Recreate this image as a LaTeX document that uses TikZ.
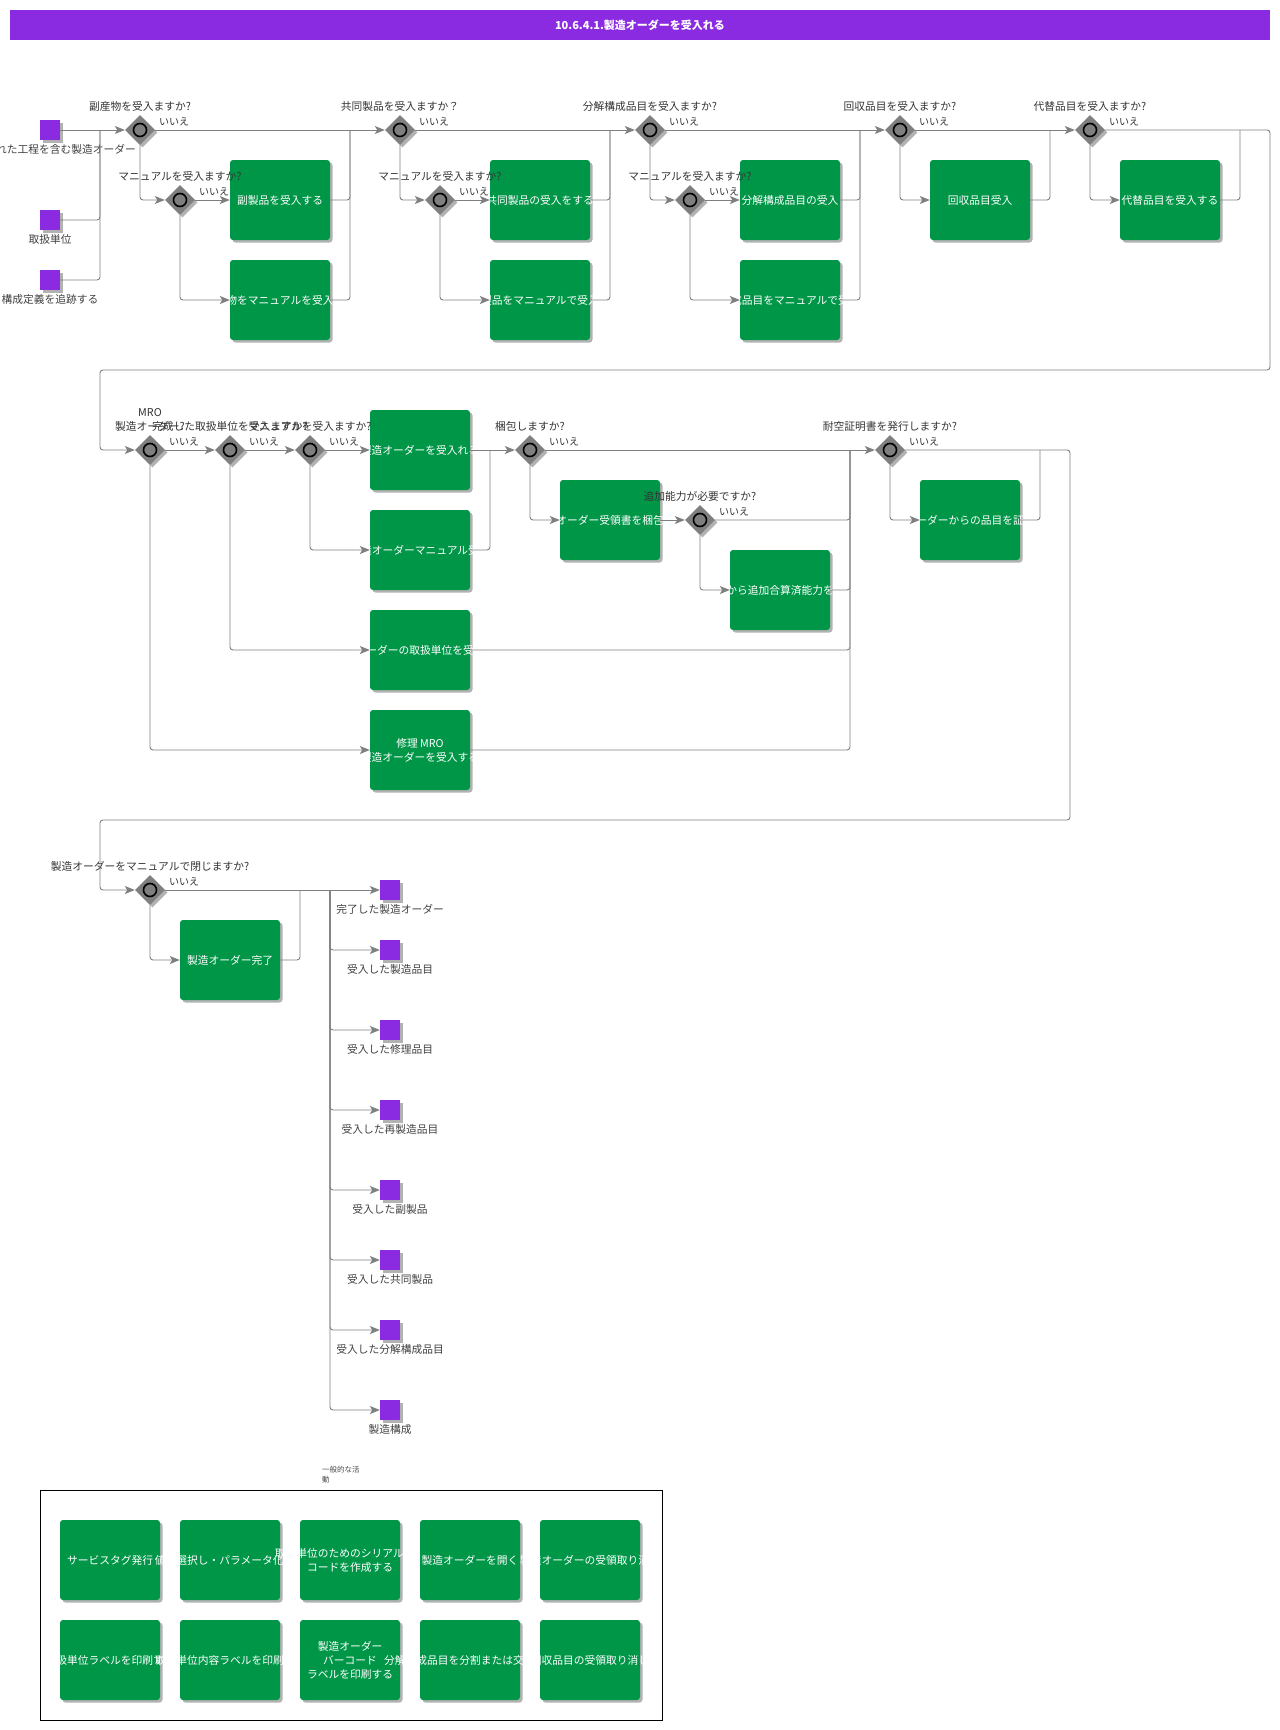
\documentclass[tikz,border=0pt]{standalone}
\usepackage{fontspec}
\setmainfont{Noto Sans CJK JP}
\usetikzlibrary{ shapes.geometric, % For the gateway diamonds
                 arrows.meta,
                 shadows,         % For the soft shadows under the shapes
                 positioning,
               }
\definecolor{bpmpurple}{HTML}{8A2BE2}
\definecolor{bpmgreen}{HTML}{009648}
\definecolor{bpmgrey}{HTML}{7F7F7F}

\tikzstyle{flow} = [draw=bpmgrey, line width=0.9pt, rounded corners=3pt, -{Stealth[length=10pt, width=8pt, inset=2.5pt]}]
\tikzstyle{wire} = [draw=bpmgrey, line width=0.9pt, rounded corners=3pt]
\tikzstyle{softshadow} = [drop shadow={shadow xshift=2.5pt, shadow yshift=-2.5pt, fill=black, opacity=0.3}]
\tikzstyle{task} = [rectangle, rounded corners=3pt, fill=bpmgreen, minimum width=100pt, minimum height=80pt, inner sep=0pt, softshadow]
\tikzstyle{tasktext} = [text=white, font=\fontsize{10.75}{14}\selectfont, align=center, inner sep=0pt]
\tikzstyle{endpt} = [rectangle, fill=bpmpurple, minimum size=20pt, inner sep=0pt, softshadow]
\tikzstyle{endtext} = [text=black!75, font=\fontsize{10.75}{13}\selectfont, inner sep=1pt, yshift=-3pt]
\tikzstyle{notext} = [text=black!80, font=\fontsize{10}{12}\selectfont, inner sep=0pt]
\tikzstyle{gatetext} = [text=black!80, font=\fontsize{10.75}{14}\selectfont, align=center, inner sep=1pt, yshift=2pt]
\tikzstyle{gate} = [diamond, aspect=1, fill=bpmgrey, minimum width=30pt, minimum height=30pt, inner sep=0pt, softshadow,
                    path picture={\draw[line width=1.6pt, fill=bpmgrey] (path picture bounding box.center) circle (6.5pt);},
                    label={[notext, xshift=34pt, yshift=8pt]center:いいえ}]
\tikzstyle{frame} = [draw=black, line width=1pt]

\begin{document}
\begin{tikzpicture}[x=1pt, y=-1pt]
  \useasboundingbox (0,0) rectangle (1280,1730);

  \node (title) [rectangle, fill=bpmpurple, minimum width=1260pt, minimum height=30pt, text=white,
                 font=\bfseries\fontsize{11}{13}\selectfont] at (640,25) {10.6.4.1.製造オーダーを受入れる};

  % inputs
  \node (s1) [endpt, label={[endtext]below:報告された工程を含む製造オーダー}] at (50,130) {};
  \node (s2) [endpt, label={[endtext]below:取扱単位}] at (50,220) {};
  \node (s3) [endpt, label={[endtext]below:構成定義を追跡する}] at (50,280) {};

  % first row of tasks
  \node (t1a) [task, label={[tasktext]center:副製品を受入する}] at (280,200) {};
  \node (t1b) [task, label={[tasktext]center:副産物をマニュアルを受入する}] at (280,300) {};
  \node (t2a) [task, label={[tasktext]center:共同製品の受入をする}] at (540,200) {};
  \node (t2b) [task, label={[tasktext]center:共同製品をマニュアルで受入する}] at (540,300) {};
  \node (t3a) [task, label={[tasktext]center:分解構成品目の受入}] at (790,200) {};
  \node (t3b) [task, label={[tasktext]center:分解構成品目をマニュアルで受入する}] at (790,300) {};
  \node (t4) [task, label={[tasktext]center:回収品目受入}] at (980,200) {};
  \node (t5) [task, label={[tasktext]center:代替品目を受入する}] at (1170,200) {};

  % second row of tasks
  \node (r1) [task, label={[tasktext]center:製造オーダーを受入れる}] at (420,450) {};
  \node (r2) [task, label={[tasktext]center:製造オーダーマニュアル受入}] at (420,550) {};
  \node (r3) [task, label={[tasktext]center:製造オーダーの取扱単位を受入れる}] at (420,650) {};
  \node (r4) [task, label={[tasktext]center:修理 MRO\\製造オーダーを受入する}] at (420,750) {};
  \node (r5) [task, label={[tasktext]center:製造オーダー受領書を梱包する}] at (610,520) {};
  \node (r6) [task, label={[tasktext]center:工程から追加合算済能力を消費}] at (780,590) {};
  \node (r7) [task, label={[tasktext]center:製造オーダーからの品目を証明する}] at (970,520) {};

  % closing
  \node (q1) [task, label={[tasktext]center:製造オーダー完了}] at (230,960) {};

  % outputs
  \foreach \i/\y/\txt in {1/890/完了した製造オーダー, 2/950/受入した製造品目, 3/1030/受入した修理品目,
                          4/1110/受入した再製造品目, 5/1190/受入した副製品, 6/1260/受入した共同製品,
                          7/1330/受入した分解構成品目, 8/1410/製造構成}
    \node (o\i) [endpt, label={[endtext]below:\txt}] at (390,\y) {};

  % general activities
  \draw [frame] (40,1490) rectangle (662,1720);
  \node (grouptitle) [anchor=north west, align=left, font=\fontsize{7.5}{10}\selectfont, text=black!70, inner sep=0pt] at (322,1466) {一般的な活\\動};
  \foreach \i/\x/\y/\txt in {1/110/1560/サービスタグ発行, 2/230/1560/値を選択し・パラメータ化する,
                             3/350/1560/{取扱単位のためのシリアル納入\\コードを作成する}, 4/470/1560/製造オーダーを開く,
                             5/590/1560/製造オーダーの受領取り消し, 6/110/1660/取扱単位ラベルを印刷する,
                             7/230/1660/取扱単位内容ラベルを印刷する, 8/350/1660/{製造オーダー\\バーコード\\ラベルを印刷する},
                             9/470/1660/分解構成品目を分割または交換する, 10/590/1660/回収品目の受領取り消し}
    \node (act\i) [task, label={[tasktext]center:\txt}] at (\x,\y) {};

  % gateways
  \node (g1) [gate, label={[gatetext]above:副産物を受入ますか?}] at (140,130) {};
  \node (g1b) [gate, label={[gatetext]above:マニュアルを受入ますか?}] at (180,200) {};
  \node (g2) [gate, label={[gatetext]above:共同製品を受入ますか？}] at (400,130) {};
  \node (g2b) [gate, label={[gatetext]above:マニュアルを受入ますか?}] at (440,200) {};
  \node (g3) [gate, label={[gatetext]above:分解構成品目を受入ますか?}] at (650,130) {};
  \node (g3b) [gate, label={[gatetext]above:マニュアルを受入ますか?}] at (690,200) {};
  \node (g4) [gate, label={[gatetext]above:回収品目を受入ますか?}] at (900,130) {};
  \node (g5) [gate, label={[gatetext]above:代替品目を受入ますか?}] at (1090,130) {};
  \node (g6) [gate, label={[gatetext]above:MRO\\製造オーダー?}] at (150,450) {};
  \node (g7) [gate, label={[gatetext]above:完成した取扱単位を受入ますか?}] at (230,450) {};
  \node (g8) [gate, label={[gatetext]above:マニュアルを受入ますか?}] at (310,450) {};
  \node (g9) [gate, label={[gatetext]above:梱包しますか?}] at (530,450) {};
  \node (g10) [gate, label={[gatetext]above:追加能力が必要ですか?}] at (700,520) {};
  \node (g11) [gate, label={[gatetext]above:耐空証明書を発行しますか?}] at (890,450) {};
  \node (g12) [gate, label={[gatetext]above:製造オーダーをマニュアルで閉じますか?}] at (150,890) {};

  % junctions
  \coordinate (j1) at (100,130);
  \coordinate (j2) at (350,130);
  \coordinate (j3) at (610,130);
  \coordinate (j4) at (860,130);
  \coordinate (j5) at (1050,130);
  \coordinate (j6) at (1240,130);
  \coordinate (turn1) at (1270,370);
  \coordinate (turn2) at (100,370);
  \coordinate (j7) at (490,450);
  \coordinate (j8) at (850,450);
  \coordinate (j9) at (1040,450);
  \coordinate (turn3) at (1070,820);
  \coordinate (turn4) at (100,820);
  \coordinate (j10) at (300,890);
  \coordinate (j11) at (330,890);

  % first row
  \draw [flow] (s1) -- (g1);
  \draw [wire] (s2) -| (j1);
  \draw [wire] (s3) -| (j1);
  \draw [flow] (g1) -- (g2);
  \draw [flow] (g1) |- (g1b);
  \draw [flow] (g1b) -- (t1a);
  \draw [flow] (g1b) |- (t1b);
  \draw [wire] (t1a) -| (j2);
  \draw [wire] (t1b) -| (j2);
  \draw [flow] (g2) -- (g3);
  \draw [flow] (g2) |- (g2b);
  \draw [flow] (g2b) -- (t2a);
  \draw [flow] (g2b) |- (t2b);
  \draw [wire] (t2a) -| (j3);
  \draw [wire] (t2b) -| (j3);
  \draw [flow] (g3) -- (g4);
  \draw [flow] (g3) |- (g3b);
  \draw [flow] (g3b) -- (t3a);
  \draw [flow] (g3b) |- (t3b);
  \draw [wire] (t3a) -| (j4);
  \draw [wire] (t3b) -| (j4);
  \draw [flow] (g4) -- (g5);
  \draw [flow] (g4) |- (t4);
  \draw [wire] (t4) -| (j5);
  \draw [flow] (g5) |- (t5);
  \draw [wire] (t5) -| (j6);
  \draw [flow] (g5) -| (turn1) -- (turn2) |- (g6);

  % second row
  \draw [flow] (g6) -- (g7);
  \draw [flow] (g7) -- (g8);
  \draw [flow] (g8) -- (r1);
  \draw [flow] (g8) |- (r2);
  \draw [flow] (g7) |- (r3);
  \draw [flow] (g6) |- (r4);
  \draw [flow] (r1) -- (g9);
  \draw [wire] (r2) -| (j7);
  \draw [flow] (g9) |- (r5);
  \draw [flow] (r5) -- (g10);
  \draw [flow] (g10) |- (r6);
  \draw [wire] (g10) -| (j8);
  \draw [wire] (r6) -| (j8);
  \draw [wire] (r3) -| (j8);
  \draw [wire] (r4) -| (j8);
  \draw [flow] (g9) -- (g11);
  \draw [flow] (g11) |- (r7);
  \draw [wire] (r7) -| (j9);
  \draw [flow] (g11) -| (turn3) -- (turn4) |- (g12);

  % closing and outputs
  \draw [flow] (g12) -- (o1);
  \draw [flow] (g12) |- (q1);
  \draw [wire] (q1) -| (j10);
  \foreach \i in {2,...,8}
    \draw [flow] (j11) |- (o\i);

\end{tikzpicture}
\end{document}
